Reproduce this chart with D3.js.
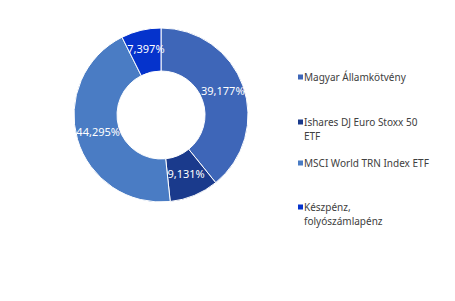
<!DOCTYPE html>
<html>
<head>
<meta charset="utf-8">
<script src="https://cdn.jsdelivr.net/npm/d3@7"></script>
<style>
  body { margin: 0; background: #fff; }
  svg { font-family: "Noto Sans", sans-serif; }
</style>
</head>
<body>
<div id="chart"></div>
<script>
// Data
const categories = ["Magyar Államkötvény", "Ishares DJ Euro Stoxx 50 ETF", "MSCI World TRN Index ETF", "Készpénz, folyószámlapénz"];
const values = [39.177, 9.131, 44.295, 7.397];
const labels = ["39,177%", "9,131%", "44,295%", "7,397%"];
// legend text split into lines as in the picture
const legendLines = [["Magyar Államkötvény"], ["Ishares DJ Euro Stoxx 50", "ETF"], ["MSCI World TRN Index ETF"], ["Készpénz,", "folyószámlapénz"]];
const colors = ["#3E66B8", "#1A3A8C", "#4A7CC4", "#0533CC"];

let width = 455, height = 301;
let cx = 161, cy = 115, outerR = 87, innerR = 44;

let svg = d3.select("#chart")
  .append("svg")
  .attr("width", width)
  .attr("height", height);

let data = categories.map((c, i) => ({name: c, value: values[i], label: labels[i], color: colors[i]}));

let pie = d3.pie()
  .value(d => d.value)
  .sort(null);

let arc = d3.arc()
  .innerRadius(innerR)
  .outerRadius(outerR);

let g = svg.append("g")
  .attr("transform", `translate(${cx},${cy})`);

let arcs = pie(data);

g.selectAll("path")
  .data(arcs)
  .enter()
  .append("path")
  .attr("d", arc)
  .attr("fill", d => d.data.color)
  .attr("stroke", "#fff")
  .attr("stroke-width", 1);

// percentage labels at arc centroids
g.selectAll("text.lbl")
  .data(arcs)
  .enter()
  .append("text")
  .attr("class", "lbl")
  .attr("transform", d => `translate(${arc.centroid(d)})`)
  .attr("text-anchor", "middle")
  .attr("dy", "0.2em")
  .attr("fill", "#fff")
  .style("font-size", "11px")
  .text(d => d.data.label);

// legend
const legendY = [77, 122, 163, 207];
let legend = svg.append("g");

data.forEach((d, i) => {
  legend.append("rect")
    .attr("x", 298)
    .attr("y", legendY[i] - 2.5)
    .attr("width", 5)
    .attr("height", 5)
    .attr("fill", d.color);

  let t = legend.append("text")
    .attr("x", 304)
    .attr("y", legendY[i])
    .attr("fill", "#404040")
    .style("font-size", "10px");

  legendLines[i].forEach((line, j) => {
    t.append("tspan")
      .attr("x", 304)
      .attr("dy", j === 0 ? "0.35em" : "14px")
      .text(line);
  });
});
</script>
</body>
</html>
